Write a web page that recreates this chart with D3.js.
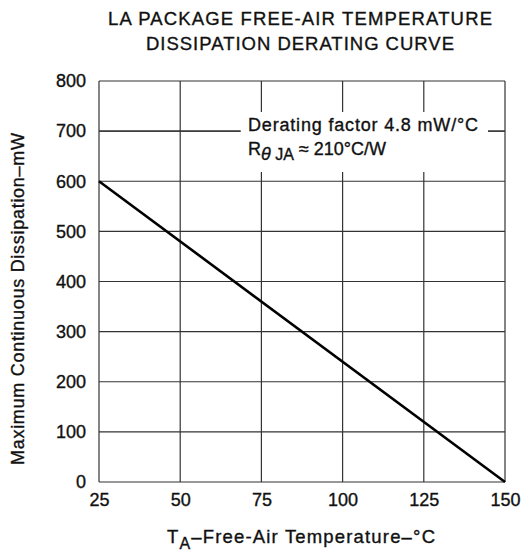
<!doctype html>
<html lang="en">
<head>
  <meta charset="utf-8">
  <title>Derating curve</title>
  <script src="https://cdn.jsdelivr.net/npm/d3@7"></script>
  <style>
    body { margin:0; background:#fff; }
    text { font-family: "Liberation Sans", Arial, sans-serif; fill:#111; stroke:#111; stroke-width:0.35px; }
  </style>
</head>
<body>
  <svg id="chart" width="521" height="552"></svg>
  <script>
    // data
    var tempTicks = [25, 50, 75, 100, 125, 150];
    var powerTicks = [0, 100, 200, 300, 400, 500, 600, 700, 800];
    var curveTemp = [25, 150];
    var curvePower = [600, 0];
    var titleLines = ["LA PACKAGE FREE-AIR TEMPERATURE", "DISSIPATION DERATING CURVE"];
    var titleWidths = [384, 308];

    var svg = d3.select("#chart");
    var x = d3.scaleLinear().domain([25, 150]).range([99, 505]);
    var y = d3.scaleLinear().domain([0, 800]).range([482, 81]);

    // grid
    var grid = svg.append("g").attr("stroke", "#333").attr("stroke-width", 1.2);
    grid.selectAll("line.v").data(tempTicks).enter().append("line")
      .attr("x1", d => x(d)).attr("x2", d => x(d))
      .attr("y1", y(0)).attr("y2", y(800));
    grid.selectAll("line.h").data(powerTicks).enter().append("line")
      .attr("x1", x(25)).attr("x2", x(150))
      .attr("y1", d => y(d)).attr("y2", d => y(d));

    // white box behind the note
    svg.append("rect").attr("x", 241).attr("y", 112).attr("width", 247).attr("height", 60).attr("fill", "#fff");
    // pieces of the 700 line either side of the note
    svg.append("line").attr("x1", x(25)).attr("x2", 240).attr("y1", y(700)).attr("y2", y(700))
      .attr("stroke", "#333").attr("stroke-width", 1.2);
    svg.append("line").attr("x1", 488).attr("x2", x(150)).attr("y1", y(700)).attr("y2", y(700))
      .attr("stroke", "#333").attr("stroke-width", 1.2);

    // derating line
    svg.append("path")
      .datum(curveTemp.map((t, i) => [t, curvePower[i]]))
      .attr("d", d3.line().x(d => x(d[0])).y(d => y(d[1])))
      .attr("fill", "none").attr("stroke", "#000").attr("stroke-width", 2.6);

    // axes (labels only)
    var xAxis = svg.append("g").attr("transform", `translate(0,${y(0)})`)
      .call(d3.axisBottom(x).tickValues(tempTicks).tickSize(0).tickPadding(8));
    xAxis.select(".domain").remove();
    xAxis.selectAll("text").attr("font-size", 18).attr("fill", "#111").attr("dy", "0.9em")
      .attr("font-family", "\"Liberation Sans\", Arial, sans-serif");
    var yAxis = svg.append("g").attr("transform", `translate(${x(25)},0)`)
      .call(d3.axisLeft(y).tickValues(powerTicks).tickSize(0).tickPadding(13));
    yAxis.select(".domain").remove();
    yAxis.selectAll("text").attr("font-size", 18).attr("fill", "#111")
      .attr("font-family", "\"Liberation Sans\", Arial, sans-serif");

    // title
    svg.selectAll("text.title").data(titleLines).enter().append("text")
      .attr("class", "title")
      .attr("x", 300).attr("y", (d, i) => 25 + i * 25)
      .attr("text-anchor", "middle").attr("font-size", 18.5)
      .attr("textLength", (d, i) => titleWidths[i]).attr("lengthAdjust", "spacing")
      .text(d => d);

    // note
    var note = svg.append("g").attr("font-size", 18);
    note.append("text").attr("x", 248).attr("y", 131)
      .attr("textLength", 230).attr("lengthAdjust", "spacing")
      .text("Derating factor 4.8 mW/°C");
    var n2 = note.append("text").attr("x", 248).attr("y", 155);
    n2.append("tspan").text("R");
    n2.append("tspan").attr("dy", 5).attr("font-style", "italic").text("θ");
    n2.append("tspan").attr("font-size", 16).text(" JA");
    n2.append("tspan").attr("dy", -5).text(" ≈ 210°C/W");

    // axis titles
    svg.append("text")
      .attr("transform", "translate(24,299) rotate(-90)")
      .attr("text-anchor", "middle").attr("font-size", 18)
      .attr("textLength", 332).attr("lengthAdjust", "spacing")
      .text("Maximum Continuous Dissipation–mW");
    var xt = svg.append("text").attr("x", 301).attr("y", 543)
      .attr("text-anchor", "middle").attr("font-size", 18.5)
      .attr("textLength", 268).attr("lengthAdjust", "spacing");
    xt.append("tspan").text("T");
    xt.append("tspan").attr("dy", 6).attr("font-size", 16).text("A");
    xt.append("tspan").attr("dy", -6).text("–Free-Air Temperature–°C");
  </script>
</body>
</html>
